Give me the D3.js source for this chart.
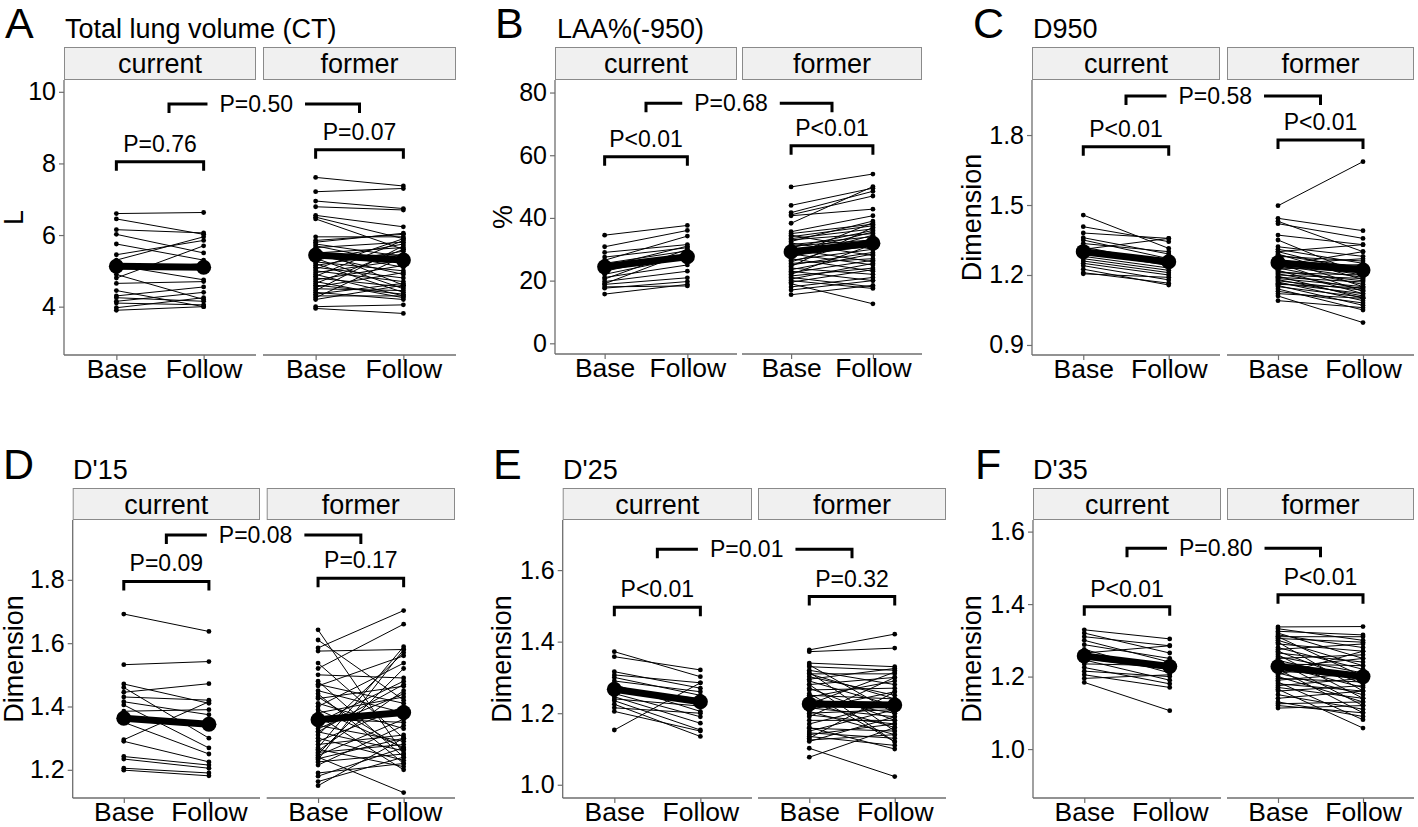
<!DOCTYPE html>
<html><head><meta charset="utf-8">
<script src="https://cdn.jsdelivr.net/npm/d3@7"></script>
<style>
body{margin:0;background:#fff}
svg{display:block}
text{font-family:"Liberation Sans",Arial,sans-serif;fill:#000}
</style>
</head><body>
<svg id="chart" width="1418" height="827"></svg>
<script>
// ---------------- DATA ----------------
const groups = ["current", "former"];
const timepoints = ["Base", "Follow"];
const panelLetters = ["A", "B", "C", "D", "E", "F"];
const panelTitles = ["Total lung volume (CT)", "LAA%(-950)", "D950", "D'15", "D'25", "D'35"];
const yAxisTitles = ["L", "%", "Dimension", "Dimension", "Dimension", "Dimension"];

const ticksA = [4, 6, 8, 10];
const ticksB = [0, 20, 40, 60, 80];
const ticksC = [0.9, 1.2, 1.5, 1.8];
const ticksD = [1.2, 1.4, 1.6, 1.8];
const ticksE = [1.0, 1.2, 1.4, 1.6];
const ticksF = [1.0, 1.2, 1.4, 1.6];

// p labels: [current Base vs Follow, former Base vs Follow, current vs former]
const pA = ["P=0.76", "P=0.07", "P=0.50"];
const pB = ["P<0.01", "P<0.01", "P=0.68"];
const pC = ["P<0.01", "P<0.01", "P=0.58"];
const pD = ["P=0.09", "P=0.17", "P=0.08"];
const pE = ["P<0.01", "P=0.32", "P=0.01"];
const pF = ["P<0.01", "P<0.01", "P=0.80"];

// means [Base, Follow] for current, former
const meansA = [[5.13, 5.10], [5.44, 5.30]];
const meansB = [[24.4, 27.6], [29.2, 31.9]];
const meansC = [[1.300, 1.257], [1.253, 1.221]];
const meansD = [[1.363, 1.344], [1.358, 1.381]];
const meansE = [[1.267, 1.232], [1.226, 1.223]];
const meansF = [[1.257, 1.228], [1.228, 1.200]];

// individual subjects: [Base, Follow]
const tlvCurrent = [[6.60,6.63],[6.45,6.02],[6.15,6.06],[6.02,5.50],[5.75,5.30],[5.45,5.85],[5.30,5.95],[5.15,4.75],[4.90,4.20],[4.80,5.70],[4.65,4.70],[4.30,4.55],[4.25,4.15],[4.15,4.40],[4.10,4.05],[3.97,4.25],[3.90,4.00],[5.05,5.20],[4.45,4.00]];
const tlvFormer = [[7.61,7.37],[7.21,7.30],[6.95,6.74],[6.79,6.70],[6.55,6.23],[6.50,5.90],[6.45,5.60],[5.95,5.95],[5.80,6.05],[5.75,5.40],[5.70,5.20],[5.65,5.80],[5.60,4.60],[5.55,5.10],[5.50,5.65],[5.45,4.90],[5.40,5.45],[5.35,4.50],[5.30,5.75],[5.25,5.00],[5.20,4.40],[5.15,5.55],[5.10,4.80],[5.05,5.90],[5.00,4.70],[4.95,5.30],[4.90,4.30],[4.85,5.85],[4.80,4.55],[4.75,5.15],[4.70,4.25],[4.65,5.60],[4.60,4.35],[4.55,4.95],[4.50,4.45],[4.45,5.70],[4.40,4.20],[4.35,4.65],[4.30,4.30],[4.25,5.40],[4.00,4.05],[3.95,3.81],[5.85,6.02],[4.20,4.60]];

const laaCurrent = [[34.5,37.6],[30.8,36.0],[29.0,31.5],[27.5,30.5],[26.5,34.2],[25.5,29.5],[24.5,31.0],[23.0,28.5],[22.0,27.5],[20.5,30.0],[19.7,23.0],[18.8,20.9],[18.0,18.3],[17.6,19.7],[15.7,18.8],[21.0,25.0],[19.0,29.0]];
const laaFormer = [[49.9,54.0],[44.0,49.5],[41.7,48.5],[41.0,47.0],[40.7,42.8],[38.3,50.0],[35.6,40.7],[35.0,38.0],[34.5,30.0],[34.0,37.5],[33.4,36.5],[33.0,35.0],[32.5,39.0],[32.0,28.0],[31.5,34.0],[31.0,33.0],[30.5,36.0],[30.0,26.0],[29.5,32.0],[29.0,35.5],[28.5,25.0],[28.0,31.0],[27.5,34.5],[27.0,23.0],[26.5,30.0],[26.0,33.5],[25.5,27.0],[25.0,29.0],[24.5,37.0],[24.0,22.0],[23.5,28.5],[23.0,20.0],[22.5,26.5],[22.0,31.5],[21.5,24.0],[21.0,18.0],[20.5,25.5],[20.0,17.5],[19.5,23.5],[19.0,12.6],[18.0,21.0],[17.0,20.0],[15.5,18.5],[28.0,38.5]];

const d950Current = [[1.457,1.314],[1.407,1.343],[1.380,1.357],[1.360,1.290],[1.350,1.270],[1.335,1.300],[1.320,1.250],[1.310,1.357],[1.300,1.240],[1.290,1.265],[1.280,1.230],[1.270,1.220],[1.260,1.210],[1.250,1.200],[1.240,1.179],[1.225,1.157],[1.210,1.165],[1.205,1.190]];
const d950Former = [[1.497,1.686],[1.443,1.390],[1.430,1.300],[1.420,1.357],[1.371,1.330],[1.350,1.200],[1.321,1.280],[1.310,1.250],[1.300,1.330],[1.290,1.180],[1.285,1.230],[1.280,1.260],[1.270,1.150],[1.265,1.220],[1.260,1.240],[1.255,1.200],[1.250,1.130],[1.245,1.270],[1.240,1.190],[1.235,1.210],[1.230,1.160],[1.225,1.245],[1.220,1.120],[1.215,1.175],[1.210,1.200],[1.205,1.140],[1.200,1.185],[1.195,1.100],[1.190,1.170],[1.185,1.150],[1.180,1.110],[1.175,1.135],[1.170,1.090],[1.165,1.120],[1.160,1.145],[1.155,1.070],[1.150,1.105],[1.140,1.050],[1.130,1.080],[1.120,1.100],[1.110,0.996],[1.090,1.060],[1.300,1.210],[1.240,1.300]];

const d15Current = [[1.692,1.637],[1.532,1.542],[1.471,1.410],[1.460,1.300],[1.445,1.472],[1.430,1.420],[1.415,1.374],[1.405,1.269],[1.385,1.390],[1.370,1.350],[1.295,1.415],[1.290,1.225],[1.242,1.215],[1.234,1.205],[1.205,1.190],[1.199,1.181],[1.350,1.250]];
const d15Former = [[1.642,1.250],[1.610,1.420],[1.585,1.703],[1.575,1.580],[1.537,1.300],[1.520,1.660],[1.500,1.490],[1.480,1.240],[1.465,1.560],[1.450,1.380],[1.440,1.220],[1.425,1.464],[1.410,1.330],[1.400,1.537],[1.390,1.270],[1.380,1.430],[1.370,1.200],[1.360,1.350],[1.350,1.480],[1.340,1.290],[1.330,1.440],[1.320,1.260],[1.310,1.570],[1.300,1.230],[1.290,1.400],[1.280,1.310],[1.270,1.589],[1.265,1.210],[1.260,1.450],[1.255,1.280],[1.250,1.520],[1.245,1.360],[1.240,1.128],[1.235,1.300],[1.232,1.580],[1.225,1.250],[1.215,1.340],[1.190,1.220],[1.180,1.270],[1.163,1.240],[1.150,1.300],[1.430,1.265],[1.470,1.410],[1.320,1.470]];

const d25Current = [[1.372,1.302],[1.358,1.321],[1.316,1.270],[1.307,1.285],[1.290,1.260],[1.280,1.205],[1.270,1.240],[1.255,1.190],[1.246,1.172],[1.235,1.153],[1.225,1.135],[1.215,1.200],[1.205,1.150],[1.153,1.285],[1.300,1.250],[1.240,1.220]];
const d25Former = [[1.377,1.421],[1.372,1.382],[1.340,1.330],[1.335,1.200],[1.330,1.320],[1.320,1.280],[1.315,1.150],[1.310,1.310],[1.302,1.250],[1.295,1.325],[1.290,1.220],[1.280,1.300],[1.270,1.180],[1.265,1.270],[1.255,1.120],[1.250,1.240],[1.245,1.290],[1.240,1.200],[1.230,1.160],[1.225,1.315],[1.220,1.230],[1.215,1.190],[1.210,1.260],[1.205,1.140],[1.200,1.210],[1.195,1.170],[1.190,1.300],[1.180,1.180],[1.170,1.230],[1.160,1.100],[1.158,1.150],[1.150,1.210],[1.145,1.130],[1.140,1.170],[1.135,1.110],[1.130,1.260],[1.125,1.140],[1.121,1.190],[1.102,1.023],[1.077,1.160],[1.280,1.120],[1.310,1.240]];

const d35Current = [[1.329,1.304],[1.320,1.265],[1.310,1.285],[1.300,1.240],[1.288,1.250],[1.275,1.210],[1.265,1.285],[1.250,1.220],[1.246,1.190],[1.235,1.230],[1.225,1.180],[1.215,1.200],[1.205,1.170],[1.195,1.205],[1.184,1.106]];
const d35Former = [[1.337,1.338],[1.332,1.300],[1.325,1.315],[1.320,1.250],[1.315,1.280],[1.310,1.200],[1.305,1.295],[1.300,1.230],[1.295,1.160],[1.290,1.270],[1.280,1.220],[1.275,1.290],[1.270,1.180],[1.265,1.240],[1.260,1.140],[1.255,1.210],[1.250,1.260],[1.245,1.190],[1.240,1.120],[1.235,1.230],[1.230,1.170],[1.225,1.250],[1.220,1.100],[1.215,1.200],[1.210,1.150],[1.205,1.270],[1.200,1.130],[1.195,1.185],[1.190,1.210],[1.185,1.081],[1.180,1.160],[1.175,1.195],[1.170,1.140],[1.165,1.058],[1.160,1.175],[1.150,1.110],[1.140,1.160],[1.130,1.090],[1.125,1.130],[1.120,1.100],[1.113,1.120],[1.310,1.310]];

// ---------------- LAYOUT ----------------
const layout = [
  {subjects:[tlvCurrent, tlvFormer], means:meansA, ticks:ticksA, p:pA, fmt:d3.format("d"),
   axisX:64, facets:[[64,256],[263,456]], stripTop:47, top:80, bottom:355, domain:[2.65,10.33],
   letterX:5, titleX:65, titleY:38, yTitleX:14, bracketY:[8.05,8.38,9.66], betweenShift:[9,0]},
  {subjects:[laaCurrent, laaFormer], means:meansB, ticks:ticksB, p:pB, fmt:d3.format("d"),
   axisX:555, facets:[[555,737],[742,922]], stripTop:47, top:80, bottom:354, domain:[-3.41,84.0],
   letterX:495, titleX:557, titleY:38, yTitleX:503, bracketY:[59.5,63.0,76.6], betweenShift:[0,0]},
  {subjects:[d950Current, d950Former], means:meansC, ticks:ticksC, p:pC, fmt:d3.format(".1f"),
   axisX:1032, facets:[[1032,1220],[1227,1414]], stripTop:47, top:80, bottom:355, domain:[0.857,2.036],
   letterX:973, titleX:1033, titleY:38, yTitleX:972, bracketY:[1.750,1.779,1.967], betweenShift:[0,0]},
  {subjects:[d15Current, d15Former], means:meansD, ticks:ticksD, p:pD, fmt:d3.format(".1f"),
   axisX:72.7, facets:[[72.7,260],[266.7,455]], stripTop:488, top:520, bottom:798, domain:[1.111,1.989],
   letterX:3, titleX:73, titleY:479, yTitleX:14, bracketY:[1.795,1.805,1.942], betweenShift:[0,0]},
  {subjects:[d25Current, d25Former], means:meansE, ticks:ticksE, p:pE, fmt:d3.format(".1f"),
   axisX:562.7, facets:[[562.7,752],[758,946]], stripTop:488, top:520, bottom:798, domain:[0.963,1.740],
   letterX:493, titleX:563, titleY:479, yTitleX:502, bracketY:[1.496,1.526,1.658], betweenShift:[0,0]},
  {subjects:[d35Current, d35Former], means:meansF, ticks:ticksF, p:pF, fmt:d3.format(".1f"),
   axisX:1033, facets:[[1033,1221],[1227,1414]], stripTop:488, top:520, bottom:798, domain:[0.865,1.632],
   letterX:975, titleX:1033, titleY:479, yTitleX:972, bracketY:[1.393,1.426,1.554], betweenShift:[0,0]}
];

const svg = d3.select("#chart");
const axisColor = "#6e6e6e";

layout.forEach((L, pi) => {
  const g = svg.append("g");
  const y = d3.scaleLinear().domain(L.domain).range([L.bottom, L.top]);
  const xs = L.facets.map(f => d3.scalePoint().domain(timepoints).range(f).padding(0.6));

  // letter and title
  g.append("text").attr("x", L.letterX).attr("y", L.titleY).attr("font-size", 43).text(panelLetters[pi]);
  g.append("text").attr("x", L.titleX).attr("y", L.titleY).attr("font-size", 27).text(panelTitles[pi]);

  // strips
  groups.forEach((grp, gi) => {
    const [x0, x1] = L.facets[gi];
    g.append("rect").attr("x", x0 + 0.5).attr("y", L.stripTop + 0.5)
      .attr("width", x1 - x0 - 1).attr("height", L.top - L.stripTop - 1)
      .attr("fill", "#f0f0f0").attr("stroke", "#8a8a8a").attr("stroke-width", 1);
    g.append("text").attr("x", (x0 + x1) / 2).attr("y", (L.stripTop + L.top) / 2 + 9.5)
      .attr("text-anchor", "middle").attr("font-size", 27).text(grp);
  });

  // y axis (first facet only)
  const yAxis = d3.axisLeft(y).tickValues(L.ticks).tickFormat(L.fmt).tickSize(5).tickPadding(3);
  const ya = g.append("g").attr("transform", `translate(${L.axisX},0)`).call(yAxis);
  ya.select(".domain").remove();
  ya.append("line").attr("x1", 0).attr("x2", 0).attr("y1", L.top).attr("y2", L.bottom)
    .attr("stroke", axisColor).attr("stroke-width", 1.3);
  ya.selectAll(".tick line").attr("stroke", axisColor).attr("stroke-width", 1.2);
  ya.selectAll(".tick text").attr("font-size", 25).attr("fill", "#111")
    .attr("font-family", '"Liberation Sans",Arial,sans-serif');

  // y title
  g.append("text").attr("transform", `translate(${L.yTitleX},${(L.top + L.bottom) / 2}) rotate(-90)`)
    .attr("text-anchor", "middle").attr("dominant-baseline", "central")
    .attr("font-size", 27).text(yAxisTitles[pi]);

  // x axes for each facet
  groups.forEach((grp, gi) => {
    const xa = g.append("g").attr("transform", `translate(0,${L.bottom})`)
      .call(d3.axisBottom(xs[gi]).tickSize(5).tickPadding(4));
    xa.select(".domain").remove();
    xa.append("line").attr("x1", L.facets[gi][0]).attr("x2", L.facets[gi][1]).attr("y1", 0).attr("y2", 0)
      .attr("stroke", axisColor).attr("stroke-width", 1.3);
    xa.selectAll(".tick line").attr("stroke", axisColor).attr("stroke-width", 1.2);
    xa.selectAll(".tick text").attr("font-size", 26.5).attr("fill", "#111")
      .attr("y", 23.2).attr("dy", 0)
      .attr("font-family", '"Liberation Sans",Arial,sans-serif');
  });

  // data
  groups.forEach((grp, gi) => {
    const x = xs[gi];
    const subj = L.subjects[gi];
    const dg = g.append("g");
    dg.selectAll("line.subj").data(subj).join("line").attr("class", "subj")
      .attr("x1", x("Base")).attr("x2", x("Follow"))
      .attr("y1", d => y(d[0])).attr("y2", d => y(d[1]))
      .attr("stroke", "#000").attr("stroke-width", 1);
    const pts = subj.flatMap(d => [{t:"Base", v:d[0]}, {t:"Follow", v:d[1]}]);
    dg.selectAll("circle.pt").data(pts).join("circle").attr("class", "pt")
      .attr("cx", d => x(d.t)).attr("cy", d => y(d.v)).attr("r", 2.4).attr("fill", "#000");
    const m = L.means[gi];
    dg.append("line").attr("x1", x("Base")).attr("x2", x("Follow"))
      .attr("y1", y(m[0])).attr("y2", y(m[1])).attr("stroke", "#000").attr("stroke-width", 7);
    dg.selectAll("circle.mean").data(timepoints).join("circle").attr("class", "mean")
      .attr("cx", t => x(t)).attr("cy", (t, i) => y(m[i])).attr("r", 7.5).attr("fill", "#000");
  });

  // within-group brackets
  const leg = 9;
  groups.forEach((grp, gi) => {
    const x = xs[gi];
    const by = y(L.bracketY[gi]);
    const x0 = x("Base"), x1 = x("Follow");
    g.append("path").attr("d", `M${x0},${by + leg}V${by}H${x1}V${by + leg}`)
      .attr("fill", "none").attr("stroke", "#000").attr("stroke-width", 3);
    g.append("text").attr("x", (x0 + x1) / 2).attr("y", by - 10)
      .attr("text-anchor", "middle").attr("font-size", 23).text(L.p[gi]);
  });

  // between-group bracket
  const cx0 = (L.facets[0][0] + L.facets[0][1]) / 2 + L.betweenShift[0];
  const cx1 = (L.facets[1][0] + L.facets[1][1]) / 2 + L.betweenShift[1];
  const byb = y(L.bracketY[2]);
  g.append("path").attr("d", `M${cx0},${byb + leg}V${byb}H${cx1}V${byb + leg}`)
    .attr("fill", "none").attr("stroke", "#000").attr("stroke-width", 3);
  const lx = (cx0 + cx1) / 2 - 8;
  const t = g.append("text").attr("x", lx).attr("y", byb + 8)
    .attr("text-anchor", "middle").attr("font-size", 23).text(L.p[2]);
  const bb = t.node().getBBox();
  g.insert("rect", () => t.node()).attr("x", bb.x - 12).attr("y", byb - 12)
    .attr("width", bb.width + 24).attr("height", 24).attr("fill", "#fff");
});
</script>
</body></html>
